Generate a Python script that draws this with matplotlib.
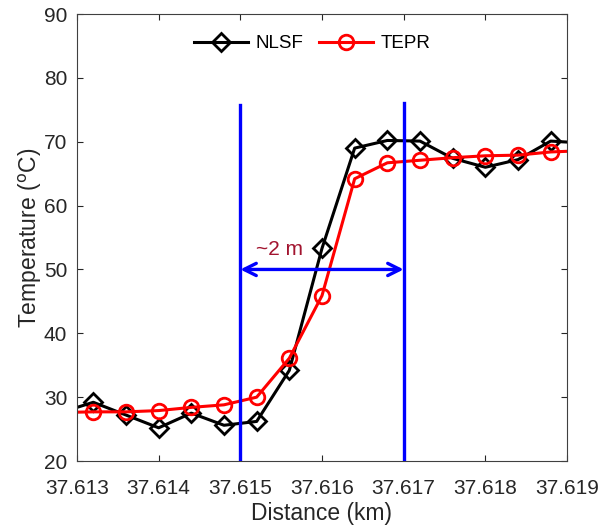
import matplotlib
matplotlib.use("Agg")
import matplotlib.pyplot as plt

plt.rcParams['font.family'] = ['Liberation Sans', 'DejaVu Sans']

# distance samples (km), including one point either side of the view
dist = [37.6128, 37.6132, 37.6136, 37.6140, 37.6144, 37.6148, 37.6152, 37.6156,
        37.6160, 37.6164, 37.6168, 37.6172, 37.6176, 37.6180, 37.6184, 37.6188, 37.6192]
nlsf = [27.6, 29.2, 27.2, 25.2, 27.5, 25.6, 26.2, 34.2,
        53.3, 69.0, 70.2, 70.1, 67.4, 66.0, 67.2, 70.1, 69.8]
tepr = [27.6, 27.7, 27.7, 27.9, 28.4, 28.8, 30.0, 36.1,
        45.9, 64.2, 66.7, 67.1, 67.5, 67.8, 67.9, 68.4, 68.6]

bounds = [37.615, 37.617]
bound_top = [75.7, 76.1]
arrow_y = 50
xticks = [37.613, 37.614, 37.615, 37.616, 37.617, 37.618, 37.619]
yticks = [20, 30, 40, 50, 60, 70, 80, 90]

fig = plt.figure(figsize=(6.08, 5.29), dpi=100)
ax = fig.add_axes([0.1266, 0.1285, 0.806, 0.845])

ax.plot(dist, nlsf, '-', color='black', lw=2.2, marker='D', ms=9, mfc='none',
        mew=2, label='NLSF')
ax.plot(dist, tepr, '-', color='red', lw=2.2, marker='o', ms=10.5, mfc='none',
        mew=2, label='TEPR')

for b, top in zip(bounds, bound_top):
    ax.plot([b, b], [20, top], color='blue', lw=2.4, zorder=3)

ax.annotate('', xy=(bounds[1], arrow_y), xytext=(bounds[0], arrow_y),
            arrowprops=dict(arrowstyle='<->', color='blue', lw=2.4,
                            mutation_scale=22, shrinkA=0, shrinkB=0))
ax.text(37.61519, 53.2, '~2 m', color='#A2142F', fontsize=15, va='center', ha='left')

ax.set_xlim(37.613, 37.619)
ax.set_ylim(20, 90)
ax.set_xticks(xticks)
ax.set_xticklabels(['%.3f' % t for t in xticks])
ax.set_yticks(yticks)
ax.tick_params(direction='in', top=True, right=True, labelsize=15,
               colors='#262626', length=4, width=0.8)
ax.tick_params(axis='x', pad=13)
ax.tick_params(axis='y', pad=7)
for s in ax.spines.values():
    s.set_color('#404040')
    s.set_linewidth(0.8)

ax.set_xlabel('Distance (km)', fontsize=16.5, color='#262626', labelpad=3)
ax.set_ylabel('Temperature ($^{\\rm o}$C)', fontsize=16.5, color='#262626', labelpad=0)

ax.legend(loc='upper center', ncol=2, frameon=False, fontsize=13.5,
          handlelength=2.9, columnspacing=0.8, handletextpad=0.4,
          bbox_to_anchor=(0.48, 0.99))

fig.savefig('out.png', dpi=100)
